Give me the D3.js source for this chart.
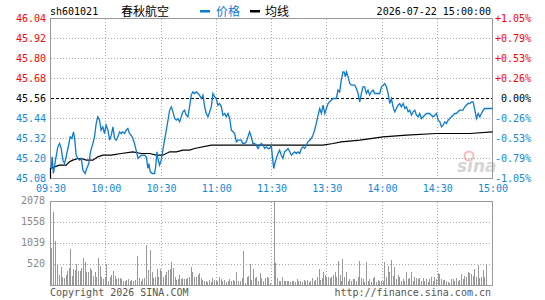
<!DOCTYPE html>
<html>
<head>
<meta charset="utf-8">
<script src="https://cdn.jsdelivr.net/npm/d3@7"></script>
<style>
  body { margin: 0; background: #fff; }
  svg text { font-family: "DejaVu Sans Mono", monospace; font-size: 10px; }
  .cjk { font-family: "Noto Sans CJK SC", sans-serif; font-size: 12px; }
</style>
</head>
<body>
<div id="chart"></div>
<script>
// ---- data ----
const stockCode = "sh601021"
const stockName = "春秋航空"
const stamp = "2026-07-22 15:00:00"
const prevClose = 45.56
const priceTicks = [46.04, 45.92, 45.80, 45.68, 45.56, 45.44, 45.32, 45.20, 45.08]
const volTicks = [520, 1039, 1558, 2078]
const timeTicks = [0, 30, 60, 90, 120, 150, 180, 210, 240]
const timeLabels = ["09:30", "10:00", "10:30", "11:00", "11:30", "13:30", "14:00", "14:30", "15:00"]

// [trading minute, price]
const priceData = [[0.4,45.14],[0.9,45.21],[1.6,45.11],[2.7,45.19],[4.0,45.27],[4.9,45.29],[5.8,45.26],[6.7,45.19],[7.6,45.17],[8.5,45.21],[10.0,45.29],[10.7,45.33],[11.6,45.32],[12.5,45.36],[13.2,45.31],[13.9,45.22],[14.9,45.20],[15.8,45.19],[16.7,45.20],[17.6,45.13],[18.8,45.11],[19.7,45.14],[20.8,45.17],[21.7,45.24],[23.0,45.29],[23.9,45.33],[24.8,45.41],[25.7,45.45],[26.6,45.43],[27.5,45.37],[28.4,45.39],[29.3,45.35],[30.2,45.40],[31.2,45.37],[32.1,45.31],[33.0,45.34],[33.9,45.39],[34.8,45.32],[35.7,45.31],[36.6,45.33],[37.5,45.36],[38.4,45.35],[39.3,45.36],[40.2,45.35],[41.1,45.37],[42.0,45.38],[42.9,45.35],[43.8,45.34],[44.7,45.32],[45.6,45.29],[46.5,45.25],[47.5,45.20],[48.4,45.21],[49.3,45.22],[50.2,45.22],[51.1,45.22],[52.0,45.21],[52.9,45.14],[53.4,45.17],[54.2,45.12],[55.2,45.11],[56.5,45.11],[57.1,45.15],[57.8,45.24],[58.3,45.20],[59.2,45.16],[60.1,45.19],[61.0,45.25],[61.9,45.31],[62.9,45.37],[63.8,45.43],[64.7,45.49],[65.6,45.51],[66.5,45.48],[67.4,45.44],[68.3,45.43],[69.2,45.44],[70.1,45.42],[71.0,45.45],[71.9,45.48],[72.8,45.49],[73.7,45.46],[74.6,45.45],[75.5,45.51],[76.4,45.58],[77.3,45.60],[78.2,45.59],[79.2,45.60],[80.1,45.59],[80.9,45.58],[81.9,45.56],[82.8,45.58],[83.7,45.51],[84.6,45.47],[85.5,45.45],[86.4,45.48],[87.3,45.51],[88.2,45.59],[89.1,45.57],[90.0,45.56],[90.9,45.52],[91.8,45.53],[92.8,45.51],[93.6,45.46],[94.6,45.47],[95.5,45.45],[96.4,45.47],[97.3,45.44],[98.2,45.37],[99.1,45.36],[100.0,45.35],[100.9,45.30],[101.8,45.31],[102.7,45.31],[103.6,45.31],[104.5,45.29],[105.4,45.29],[106.3,45.30],[107.2,45.33],[108.1,45.36],[109.0,45.33],[109.9,45.29],[110.8,45.29],[111.7,45.28],[112.7,45.26],[113.6,45.28],[114.5,45.29],[115.4,45.28],[116.3,45.26],[117.2,45.27],[118.1,45.26],[119.0,45.26],[119.9,45.28],[120.5,45.21],[121.2,45.14],[121.8,45.17],[122.6,45.20],[123.5,45.23],[124.4,45.25],[125.3,45.22],[126.2,45.20],[127.1,45.24],[128.1,45.25],[129.0,45.26],[129.9,45.24],[130.8,45.22],[131.7,45.23],[132.6,45.24],[133.5,45.23],[134.4,45.24],[135.3,45.23],[136.2,45.26],[137.1,45.27],[138.0,45.26],[138.9,45.28],[139.8,45.30],[140.7,45.31],[141.6,45.32],[142.5,45.34],[143.4,45.37],[144.3,45.41],[145.3,45.46],[146.2,45.50],[147.1,45.47],[148.0,45.52],[148.9,45.47],[149.8,45.50],[150.7,45.53],[151.6,45.54],[152.5,45.55],[153.4,45.56],[154.3,45.56],[155.2,45.56],[156.1,45.61],[157.0,45.60],[157.9,45.67],[158.8,45.72],[159.4,45.72],[160.1,45.69],[160.7,45.72],[161.6,45.69],[162.5,45.65],[163.4,45.64],[164.3,45.64],[165.2,45.64],[166.1,45.62],[167.0,45.59],[167.9,45.54],[168.8,45.59],[169.7,45.63],[170.6,45.63],[171.5,45.59],[172.4,45.61],[173.3,45.58],[174.2,45.60],[175.2,45.61],[176.1,45.59],[178.8,45.59],[179.7,45.63],[180.6,45.64],[181.5,45.65],[182.4,45.63],[183.3,45.59],[184.2,45.53],[185.1,45.56],[186.0,45.51],[186.9,45.48],[187.8,45.50],[188.7,45.52],[189.6,45.53],[190.5,45.51],[191.5,45.53],[192.4,45.50],[193.3,45.51],[194.2,45.48],[195.1,45.49],[196.0,45.46],[196.9,45.48],[197.8,45.49],[198.7,45.46],[199.6,45.45],[200.5,45.47],[201.4,45.44],[202.3,45.45],[203.2,45.46],[204.1,45.47],[205.9,45.47],[206.8,45.46],[207.7,45.45],[208.7,45.46],[209.6,45.47],[210.5,45.43],[211.4,45.42],[212.3,45.39],[213.2,45.40],[214.1,45.42],[215.0,45.41],[215.9,45.43],[216.8,45.44],[217.7,45.45],[218.6,45.46],[219.5,45.47],[220.4,45.47],[221.3,45.48],[222.2,45.49],[223.1,45.49],[224.0,45.49],[224.9,45.51],[225.8,45.52],[226.7,45.53],[227.7,45.53],[228.6,45.54],[229.5,45.54],[230.4,45.49],[231.3,45.44],[232.2,45.47],[233.1,45.45],[234.0,45.47],[234.9,45.49],[235.8,45.50],[240,45.50]]

// [trading minute, average price]
const avgData = [[0,45.08],[0,45.14],[2.2,45.15],[4.9,45.16],[8.5,45.16],[10.3,45.18],[12.1,45.19],[14.9,45.20],[16.7,45.20],[19.4,45.19],[23.0,45.19],[25.7,45.21],[28.4,45.22],[33.0,45.22],[38.4,45.23],[44.7,45.24],[49.3,45.23],[53.8,45.23],[57.4,45.22],[61.0,45.22],[64.7,45.24],[68.3,45.24],[71.9,45.25],[75.5,45.25],[78.2,45.26],[87.3,45.28],[92.8,45.28],[119.9,45.28],[132.6,45.28],[148.0,45.28],[153.4,45.29],[157.9,45.30],[167.9,45.31],[180.6,45.33],[193.3,45.34],[209.6,45.35],[227.7,45.35],[240,45.36]]

// [trading minute, volume]
const volData = [[0.0,390],[0.7,930],[1.8,1810],[2.9,1110],[4.0,540],[4.9,265],[5.8,470],[6.7,215],[7.6,190],[8.5,265],[9.4,370],[10.3,440],[11.0,900],[11.8,240],[12.5,410],[13.4,390],[14.3,540],[15.2,355],[16.1,355],[17.0,440],[17.9,680],[18.8,580],[19.7,340],[20.6,340],[21.6,430],[22.5,390],[23.4,240],[24.3,340],[25.2,200],[26.1,680],[27.0,480],[27.9,200],[28.8,160],[29.7,200],[30.6,540],[31.5,100],[32.4,200],[33.3,260],[34.2,360],[35.1,230],[36.0,160],[36.9,180],[37.9,180],[38.8,160],[39.7,120],[40.6,120],[41.5,130],[42.4,160],[43.3,100],[44.2,130],[45.1,100],[46.0,130],[47.5,740],[48.4,180],[49.3,120],[50.2,160],[51.1,180],[52.2,990],[53.3,390],[54.3,880],[55.2,340],[56.1,180],[57.1,200],[58.0,410],[58.9,200],[59.6,410],[60.5,340],[61.4,220],[62.3,260],[63.2,340],[64.1,390],[65.0,400],[65.9,590],[66.8,430],[67.7,200],[68.6,130],[69.6,160],
  [70.1,250],[71.0,160],[71.9,180],[72.8,160],[73.7,160],[74.6,180],[75.5,200],[76.4,460],[77.3,340],[78.2,220],[79.2,200],[80.1,260],[81.0,310],[81.9,180],[82.8,130],[83.7,120],[84.6,100],[85.5,75],[86.4,130],[87.3,75],[88.2,180],[89.1,130],[90.0,120],[90.9,100],[91.8,200],[92.7,160],[93.6,100],[94.6,130],[95.5,75],[96.4,100],[97.3,160],[98.2,100],[99.1,130],[100.0,120],[101.2,330],[102.1,100],[103.1,120],[104.0,180],[104.9,860],[105.8,60],[106.7,200],[107.6,240],[108.5,530],[109.4,130],[110.3,420],[111.2,180],[112.1,200],[113.0,120],[113.9,310],[114.8,180],[115.7,120],[116.6,180],[117.6,200],[118.5,180],[119.4,60],
  [121.4,2078],[122.3,560],[123.2,180],[124.1,120],[125.0,100],[125.9,200],[126.8,100],[127.7,120],[128.6,100],[129.5,120],[130.4,75],[131.3,100],[132.2,120],[133.1,75],[134.0,160],[134.9,100],[135.8,120],[136.7,75],[137.7,130],[138.6,100],[139.5,130],[140.4,75],[141.3,120],[142.2,180],[143.1,100],[144.0,130],[144.9,200],[145.8,410],[146.7,130],[147.6,180],[148.5,340],[149.3,260],[150.0,220],[150.9,200],[151.8,180],[152.7,200],[153.6,260],[154.5,340],[155.4,200],[156.3,610],[157.2,260],[158.1,120],[158.8,650],[159.8,200],[160.7,340],[161.6,120],[162.5,160],[163.4,120],[164.3,160],[165.2,160],[166.1,120],[167.0,200],
  [167.9,610],[168.8,180],[169.7,160],[170.6,75],[171.5,570],[172.4,100],[173.3,160],[174.2,75],[175.2,180],[176.1,200],[177.0,75],[177.9,130],[178.8,100],[179.7,120],[180.6,100],[181.5,570],[182.4,220],[183.3,490],[184.2,340],[185.1,640],[186.0,240],[186.9,460],[187.8,160],[188.7,260],[189.6,200],[190.5,120],[191.5,160],[192.4,100],[193.3,330],[194.2,160],[195.1,180],[196.0,340],[196.9,120],[197.8,200],[198.7,180],[199.6,160],[200.5,180],[201.4,100],[202.3,180],[203.2,120],[204.1,160],[205.0,75],[205.9,160],[206.8,200],[207.7,100],[208.6,200],[209.6,160],[210.5,310],[211.4,290],[212.3,160],[213.2,130],[214.1,130],[215.0,100],[215.9,75],[216.8,60],[217.7,160],[218.6,160],[219.5,120],[220.4,180],[221.3,100],[222.2,130],[223.1,290],[224.0,160],[224.9,240],[225.8,200],[226.7,340],[227.6,310],[228.5,290],[229.5,240],[230.4,410],[231.3,200],[232.2,510],[233.1,180],[234.0,200],[234.9,390],[235.8,200],[236.7,540]]

function drawChart(){
    const width = 545, height = 300
    let config = {
        left: 50.5, right: 492.5,
        priceTop: 18.5, priceBottom: 178.5,
        volTop: 201.5, volBottom: 285.5
    }
    const blue = "#0a7ad2", blueText = "#1188dd", red = "#ff0000"
    const grid = "#aaaaaa", border = "#999999"

    let svg = d3.select("#chart")
        .append("svg")
        .attr("width", width)
        .attr("height", height)

    var x = d3.scaleLinear()
        .domain([0, 240])
        .range([config.left, config.right])

    var y = d3.scaleLinear()
        .domain([priceTicks[priceTicks.length - 1], priceTicks[0]])
        .range([config.priceBottom, config.priceTop])

    var yv = d3.scaleLinear()
        .domain([0, volTicks[volTicks.length - 1]])
        .range([config.volBottom, config.volTop])

    const colorOf = v => v > prevClose ? red : (v < prevClose ? blueText : "#000")

    // header
    svg.append("text").attr("x", 50).attr("y", 15).text(stockCode)
    svg.append("text").attr("class", "cjk").attr("x", 121).attr("y", 15.5).text(stockName)
    svg.append("rect").attr("x", 200).attr("y", 10).attr("width", 10).attr("height", 2.5).attr("fill", blue)
    svg.append("text").attr("class", "cjk").attr("x", 216).attr("y", 15.5).attr("fill", blue).text("价格")
    svg.append("rect").attr("x", 250).attr("y", 10).attr("width", 10).attr("height", 2.5).attr("fill", "#000")
    svg.append("text").attr("class", "cjk").attr("x", 265).attr("y", 15.5).text("均线")
    svg.append("text").attr("x", 491).attr("y", 15).attr("text-anchor", "end").text(stamp)

    // grid: price panel
    svg.append("g").selectAll("line")
        .data(priceTicks.slice(1, -1))
        .join("line")
        .attr("x1", config.left).attr("x2", config.right)
        .attr("y1", d => y(d)).attr("y2", d => y(d))
        .attr("stroke", d => d === prevClose ? "#000" : grid)
        .attr("stroke-dasharray", d => d === prevClose ? "3,2" : "1,2")
        .attr("shape-rendering", "crispEdges")

    svg.append("g").selectAll("line")
        .data(timeTicks.slice(1, -1))
        .join("line")
        .attr("x1", d => x(d)).attr("x2", d => x(d))
        .attr("y1", config.priceTop).attr("y2", config.priceBottom)
        .attr("stroke", grid)
        .attr("stroke-dasharray", "1,2")
        .attr("shape-rendering", "crispEdges")

    // grid: volume panel
    svg.append("g").selectAll("line")
        .data(volTicks.slice(0, -1))
        .join("line")
        .attr("x1", config.left).attr("x2", config.right)
        .attr("y1", d => Math.round(yv(d) - 0.5) + 0.5).attr("y2", d => Math.round(yv(d) - 0.5) + 0.5)
        .attr("stroke", grid)
        .attr("stroke-dasharray", "1,2")
        .attr("shape-rendering", "crispEdges")

    svg.append("g").selectAll("line")
        .data(timeTicks.slice(1, -1))
        .join("line")
        .attr("x1", d => x(d)).attr("x2", d => x(d))
        .attr("y1", config.volTop).attr("y2", config.volBottom)
        .attr("stroke", grid)
        .attr("stroke-dasharray", "1,2")
        .attr("shape-rendering", "crispEdges")

    // volume bars
    svg.append("g").selectAll("line")
        .data(volData)
        .join("line")
        .attr("x1", d => Math.round(x(d[0]) - 0.5) + 0.5).attr("x2", d => Math.round(x(d[0]) - 0.5) + 0.5)
        .attr("y1", yv(0)).attr("y2", d => yv(d[1]))
        .attr("stroke", "#999")
        .attr("shape-rendering", "crispEdges")

    // borders
    svg.append("rect")
        .attr("x", config.left).attr("y", config.priceTop)
        .attr("width", config.right - config.left).attr("height", config.priceBottom - config.priceTop)
        .attr("fill", "none").attr("stroke", border).attr("shape-rendering", "crispEdges")
    svg.append("rect")
        .attr("x", config.left).attr("y", config.volTop)
        .attr("width", config.right - config.left).attr("height", config.volBottom - config.volTop)
        .attr("fill", "none").attr("stroke", border).attr("shape-rendering", "crispEdges")

    // sina watermark
    let mark = svg.append("g").attr("opacity", 0.4)
    mark.append("circle").attr("cx", 469).attr("cy", 156).attr("r", 4.5)
        .attr("fill", "none").attr("stroke", "#ee5555").attr("stroke-width", 2)
    mark.append("text").attr("x", 457).attr("y", 172)
        .style("font-family", "DejaVu Sans").style("font-size", "17px")
        .style("font-style", "italic").style("font-weight", "bold")
        .attr("fill", "#999").text("sina")

    // lines
    const line = d3.line()
        .x(d => x(d[0]))
        .y(d => y(d[1]))

    svg.append("path")
        .datum(avgData)
        .attr("fill", "none")
        .attr("stroke", "#000")
        .attr("stroke-width", 1.2)
        .attr("d", line)

    svg.append("path")
        .datum(priceData)
        .attr("fill", "none")
        .attr("stroke", blue)
        .attr("stroke-width", 1.3)
        .attr("d", line)

    // axes
    let yAxisL = d3.axisLeft(y).tickValues(priceTicks).tickSize(0).tickPadding(4.5)
        .tickFormat(d => d.toFixed(2))
    let gl = svg.append("g").attr("transform", `translate(${config.left},0)`).call(yAxisL)
    gl.select(".domain").remove()
    gl.selectAll("text").attr("fill", d => colorOf(d)).style("font-family", "DejaVu Sans Mono").style("font-size", "10px")

    let yAxisR = d3.axisLeft(y).tickValues(priceTicks).tickSize(0).tickPadding(4)
        .tickFormat(d => {
            let p = (d - prevClose) / prevClose * 100
            return (p > 0.001 ? "+" : "") + p.toFixed(2) + "%"
        })
    let gr = svg.append("g").attr("transform", `translate(535,0)`).call(yAxisR)
    gr.select(".domain").remove()
    gr.selectAll("text").attr("fill", d => colorOf(d)).style("font-family", "DejaVu Sans Mono").style("font-size", "10px")

    let xAxis = d3.axisBottom(x).tickValues(timeTicks).tickSize(0).tickPadding(6)
        .tickFormat((d, i) => timeLabels[i])
    let gx = svg.append("g").attr("transform", `translate(0,${config.priceBottom})`).call(xAxis)
    gx.select(".domain").remove()
    gx.selectAll("text").attr("fill", blueText).style("font-family", "DejaVu Sans Mono").style("font-size", "10px")

    let vAxis = d3.axisLeft(yv).tickValues(volTicks).tickSize(0).tickPadding(5.5)
        .tickFormat(d3.format("d"))
    let gv = svg.append("g").attr("transform", `translate(${config.left},0)`).call(vAxis)
    gv.select(".domain").remove()
    gv.selectAll("text").attr("fill", "#888").attr("dy", "0.2em").style("font-family", "DejaVu Sans Mono").style("font-size", "10px")

    // footer
    svg.append("text").attr("x", 50).attr("y", 296).attr("fill", "#555").text("Copyright 2026 SINA.COM")
    svg.append("text").attr("x", 491).attr("y", 296).attr("text-anchor", "end").attr("fill", "#555").text("http://finance.sina.com.cn")
}

drawChart()
</script>
</body>
</html>
